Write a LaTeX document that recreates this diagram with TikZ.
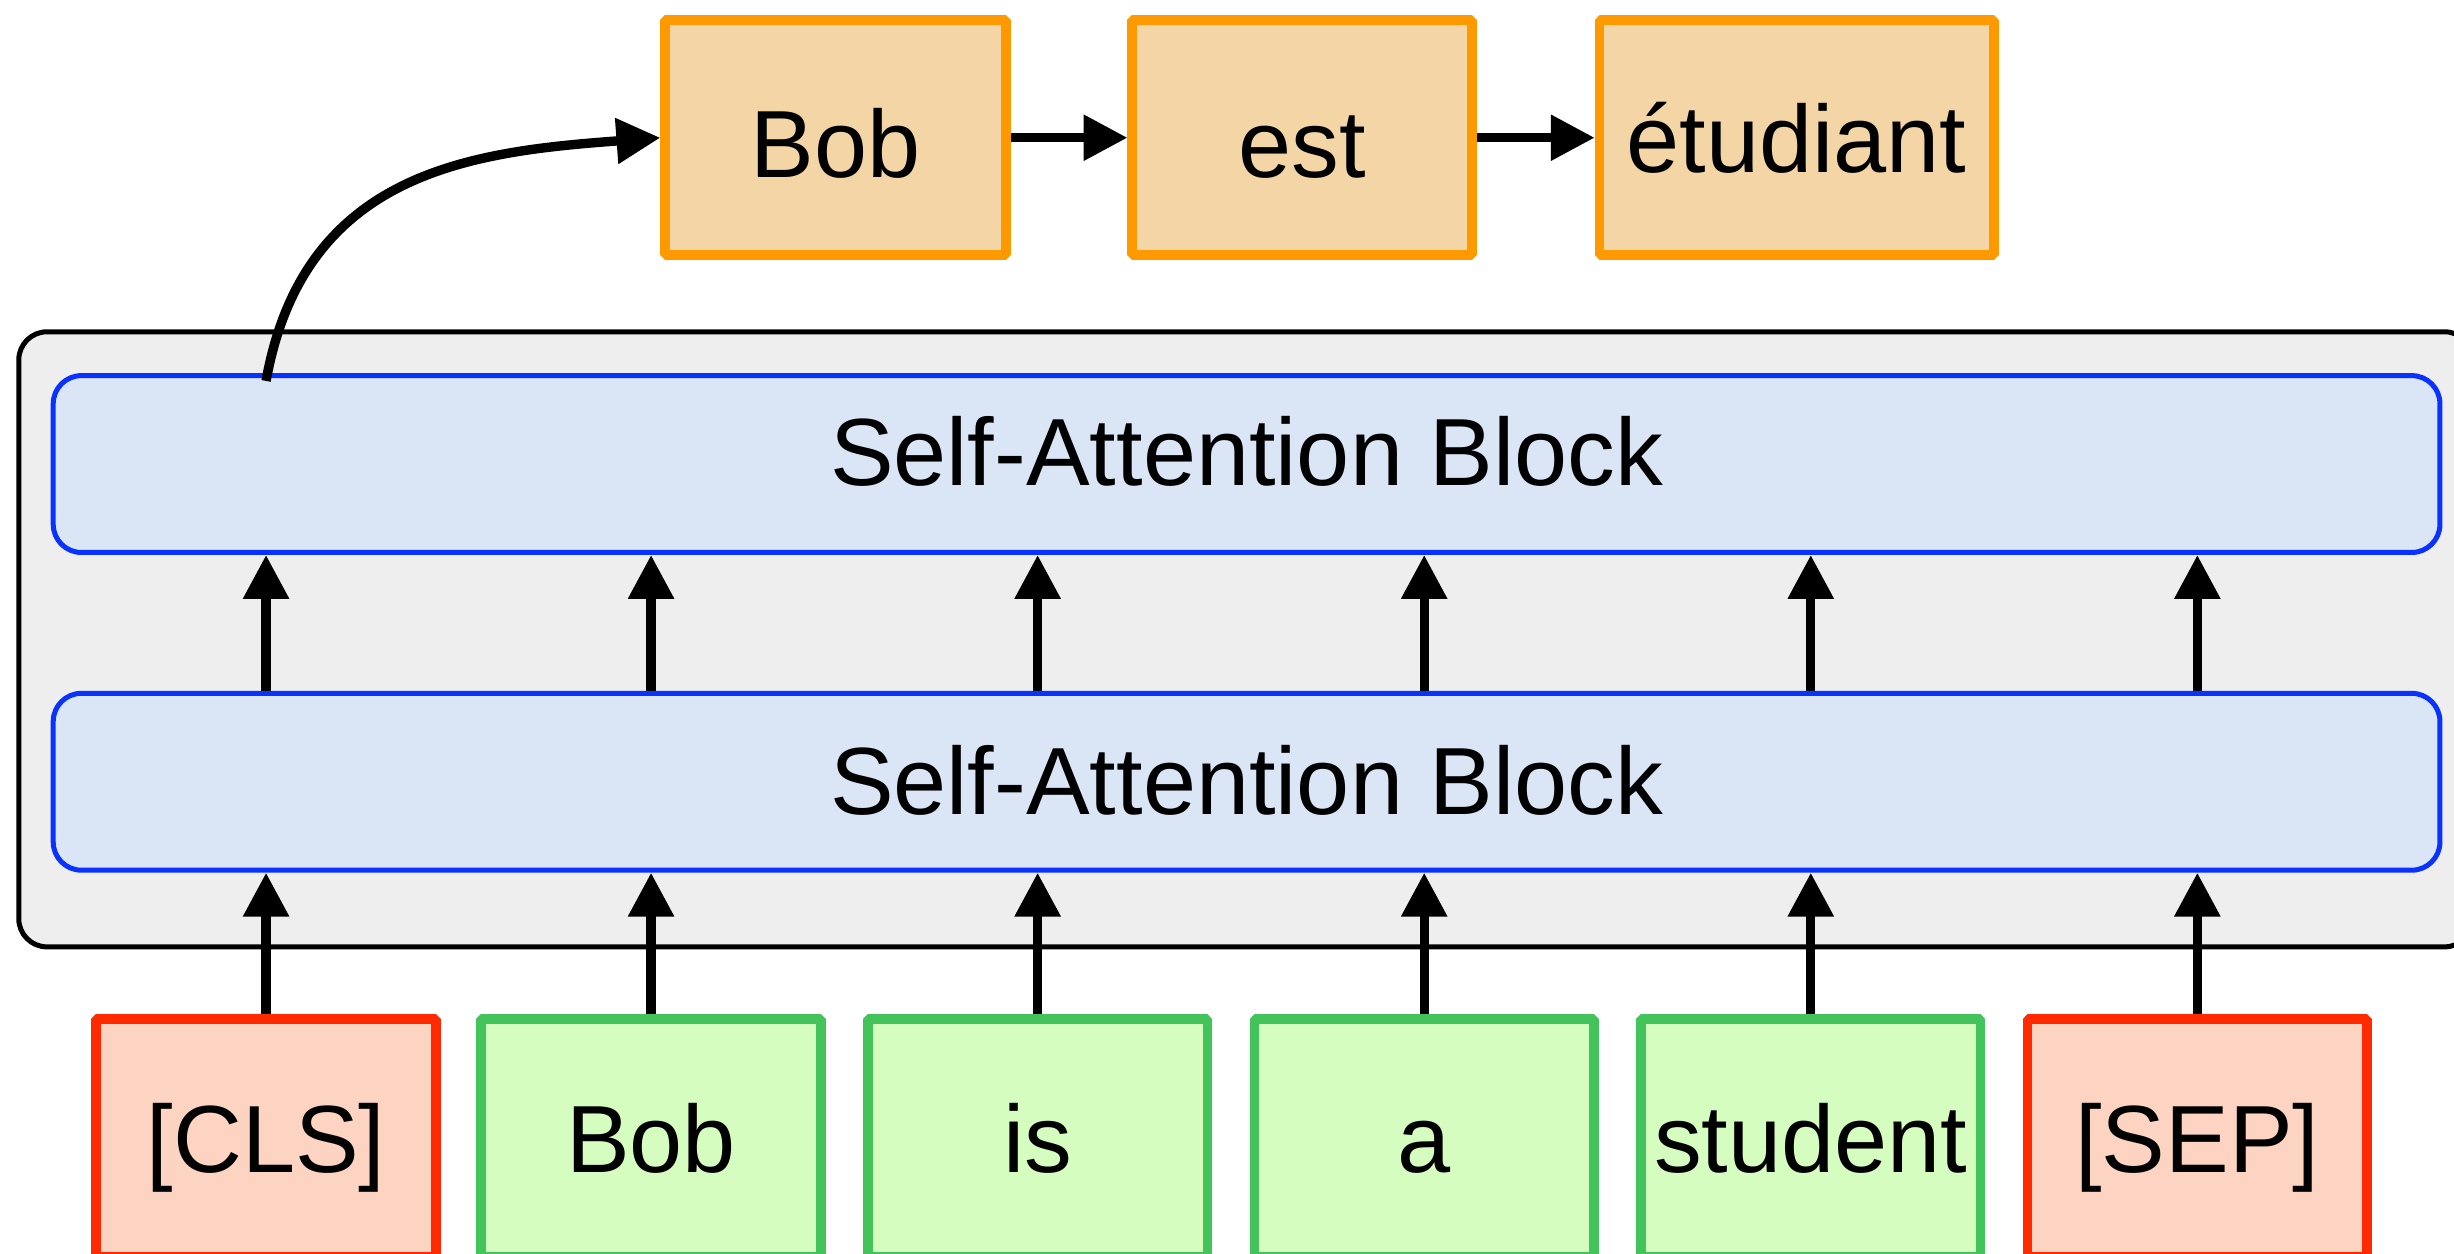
\documentclass[tikz,border=0pt]{standalone}
\usepackage{fontspec}
\setmainfont{Liberation Sans}
\usetikzlibrary{arrows.meta,calc}

\definecolor{encfill}{HTML}{EEEEEE}
\definecolor{blkfill}{HTML}{DAE6F6}
\definecolor{blkdraw}{HTML}{0A32FF}
\definecolor{outfill}{HTML}{F4D6A6}
\definecolor{outdraw}{HTML}{FF9900}
\definecolor{wordfill}{HTML}{D5FDC0}
\definecolor{worddraw}{HTML}{42C45A}
\definecolor{specfill}{HTML}{FDD3C1}
\definecolor{specdraw}{HTML}{FF2A00}

\tikzset{
  txt/.style={font=\fontsize{61}{72}\selectfont, text=black, inner sep=0pt,
    text height=44pt, text depth=0pt},
  encbox/.style={draw=black, fill=encfill, line width=3.2pt, rounded corners=18pt,
    minimum width=1568pt, minimum height=393pt, inner sep=0pt},
  sablock/.style={txt, draw=blkdraw, fill=blkfill, line width=3.2pt, rounded corners=18pt,
    minimum width=1525pt, minimum height=113pt},
  outbox/.style={txt, draw=outdraw, fill=outfill, line width=6.2pt, line join=bevel,
    minimum height=150pt},
  tokbox/.style={txt, line width=6.2pt, line join=bevel,
    minimum width=217pt, minimum height=152pt},
  wordtok/.style={tokbox, draw=worddraw, fill=wordfill},
  spectok/.style={tokbox, draw=specdraw, fill=specfill},
  arr/.style={line width=6pt, -{Triangle[length=28pt,width=28pt]}},
}

\begin{document}
\begin{tikzpicture}[x=1pt, y=-1pt]
  \path[use as bounding box] (0,0) rectangle (1568,801);
  \clip (0,0) rectangle (1568,801);

  % encoder container with its two self-attention blocks
  \node[encbox] (enc) at (796,408.5) {};
  \node[sablock, text depth=17pt] (sa2) at (796.5,296.5) {Self-Attention Block};
  \node[sablock, text depth=2pt]  (sa1) at (796.5,499.5) {Self-Attention Block};

  % decoded output tokens
  \node[outbox, minimum width=218pt, text height=51pt] (o1) at (534,88)  {Bob};
  \node[outbox, minimum width=217pt, text height=51pt] (o2) at (832,88)  {est};
  \node[outbox, minimum width=252pt] (o3) at (1148,88) {étudiant};

  % input tokens
  \node[spectok] (t1) at (170,727)  {[CLS]};
  \node[wordtok] (t2) at (416,727)  {Bob};
  \node[wordtok] (t3) at (663,727)  {is};
  \node[wordtok] (t4) at (910,727)  {a};
  \node[wordtok] (t5) at (1157,727) {student};
  \node[spectok] (t6) at (1404,727) {[SEP]};

  % inputs into the first block, first block into the second
  \foreach \t in {t1,t2,t3,t4,t5,t6} {
    \draw[arr] (\t.north) -- (\t.north |- sa1.south);
    \draw[arr] (\t.north |- sa1.north) -- (\t.north |- sa2.south);
  }

  % [CLS] output feeds the decoder
  \coordinate (cls) at ($(t1.north |- sa2.north)+(0,5)$);
  \draw[arr] (cls) .. controls (194,110) and (300,97) .. (o1.west);

  % decoder chain
  \draw[arr] (o1.east) -- (o2.west);
  \draw[arr] (o2.east) -- (o3.west);
\end{tikzpicture}
\end{document}
